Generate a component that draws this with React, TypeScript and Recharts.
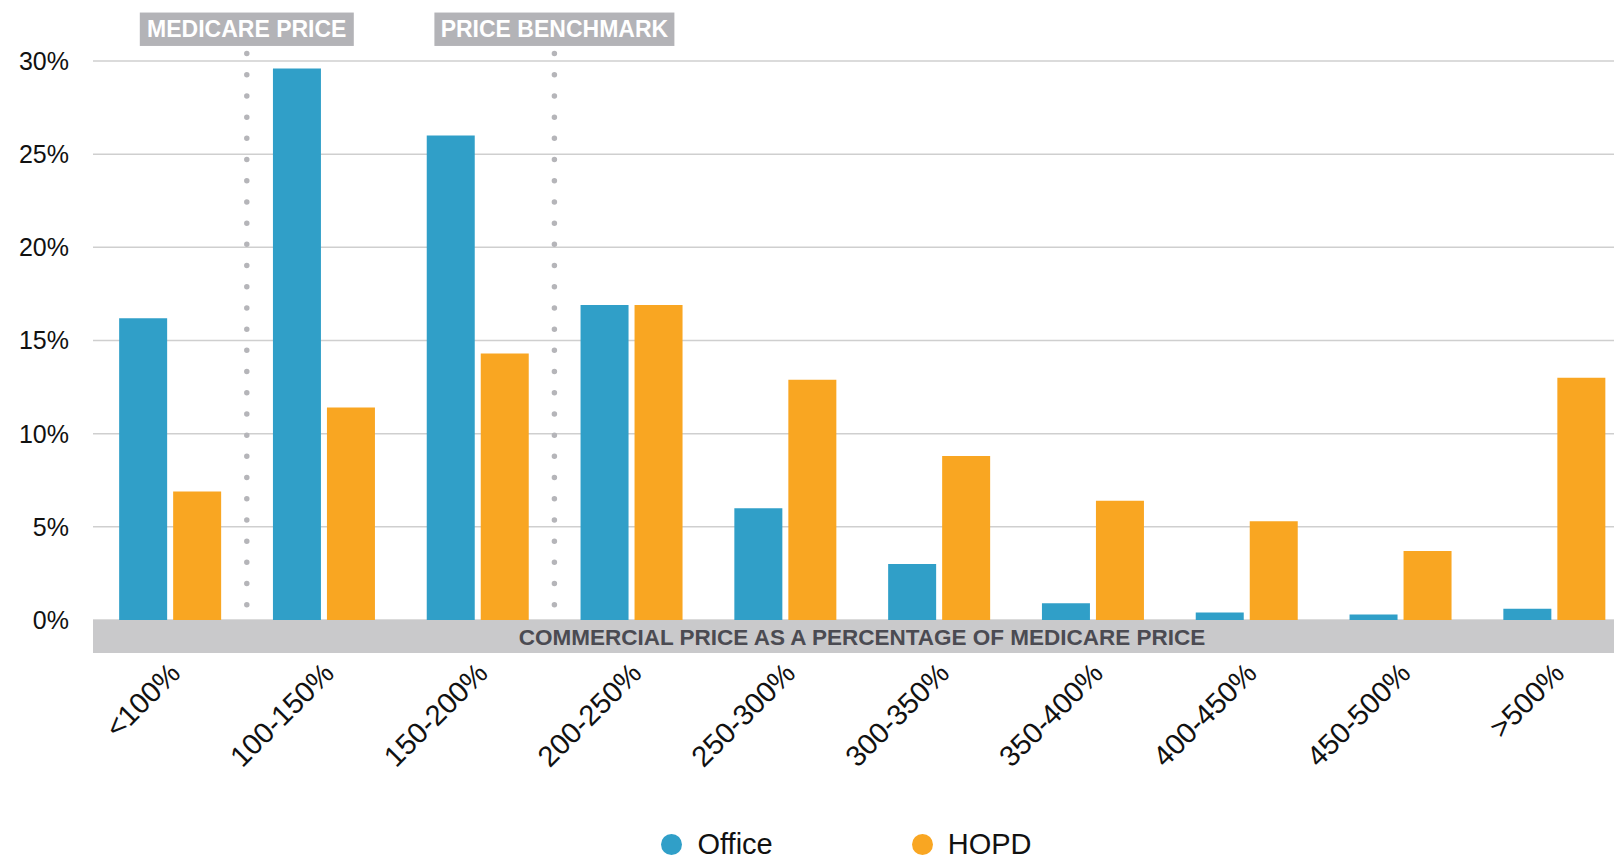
import React from 'react';
import { BarChart, Bar, XAxis, YAxis, CartesianGrid, ReferenceLine, Legend } from 'recharts';

const categories = ['<100%', '100-150%', '150-200%', '200-250%', '250-300%', '300-350%', '350-400%', '400-450%', '450-500%', '>500%'];
const officeValues = [16.2, 29.6, 26.0, 16.9, 6.0, 3.0, 0.9, 0.4, 0.3, 0.6];
const hopdValues = [6.9, 11.4, 14.3, 16.9, 12.9, 8.8, 6.4, 5.3, 3.7, 13.0];
const seriesNames = ['Office', 'HOPD'];
const yTicks = [0, 5, 10, 15, 20, 25, 30];
// dotted markers sit at the left edge of these categories
const markerCats = ['100-150%', '200-250%'];
const markerLabels = ['MEDICARE PRICE', 'PRICE BENCHMARK'];
const markerBoxWidths = [214, 240];
const axisTitle = 'COMMERCIAL PRICE AS A PERCENTAGE OF MEDICARE PRICE';

const data = categories.map((range, i) => ({ range, office: officeValues[i], hopd: hopdValues[i] }));

const FONT = '"Liberation Sans", Arial, sans-serif';
const OFFICE = '#309fc8';
const HOPD = '#f9a622';

const RotatedTick = ({ x, y, payload }: any) => (
  <g transform={`translate(${x + 12},${y + 55})`}>
    <text transform="rotate(-45)" textAnchor="end" fontSize={29} fontFamily={FONT} fill="#111">
      {payload.value}
    </text>
  </g>
);

const AxisBand = ({ viewBox }: any) => {
  const { x, y, width } = viewBox;
  return (
    <g>
      <rect x={x} y={y} width={width} height={33} fill="#c9c9cb" />
      <text x={x + width / 2} y={y + 25} textAnchor="middle" fontSize={22.5} fontWeight="bold" fontFamily={FONT} fill="#4b4b52">
        {axisTitle}
      </text>
    </g>
  );
};

const markerLabel = (i: number) => ({ viewBox }: any) => {
  const w = markerBoxWidths[i];
  return (
    <g>
      <rect x={viewBox.x - w / 2} y={viewBox.y - 41} width={w} height={33.4} fill="#b3b3b7" />
      <text x={viewBox.x} y={viewBox.y - 16.5} textAnchor="middle" fontSize={23} fontWeight="bold" fontFamily={FONT} fill="#fff">
        {markerLabels[i]}
      </text>
    </g>
  );
};

const LegendContent = ({ payload }: any) => {
  const items = [...(payload || [])].sort((a: any, b: any) => seriesNames.indexOf(a.value) - seriesNames.indexOf(b.value));
  return (
    <div style={{ display: 'flex', justifyContent: 'center', alignItems: 'center', height: 40, paddingLeft: 62, gap: 139, fontFamily: FONT, fontSize: 29, color: '#111' }}>
      {items.map((p: any) => (
        <div key={p.value} style={{ display: 'flex', alignItems: 'center', height: 24 }}>
          <span style={{ width: 21, height: 21, borderRadius: '50%', background: p.color, marginRight: 15, display: 'inline-block' }} />
          <span style={{ lineHeight: '24px' }}>{p.value}</span>
        </div>
      ))}
    </div>
  );
};

export default function App() {
  return (
    <div style={{ position: 'absolute', left: 0, top: 0, width: 1614, height: 860, overflow: 'hidden', background: '#fff' }}>
      <BarChart width={1631} height={864} data={data} margin={{ top: 61, right: 0, bottom: 0, left: 0 }} barCategoryGap="17%" barGap={6}>
        <CartesianGrid vertical={false} stroke="#cfcfcf" strokeWidth={1.5} />
        <YAxis
          domain={[0, 30]}
          ticks={yTicks}
          width={93}
          axisLine={false}
          tickLine={false}
          tickSize={0}
          tickMargin={24}
          tickFormatter={(v: number) => `${v}%`}
          tick={{ fontSize: 25, fontFamily: FONT, fill: '#111' }}
        />
        <XAxis
          dataKey="range"
          height={204}
          interval={0}
          axisLine={false}
          tickLine={false}
          tickSize={0}
          tickMargin={0}
          tick={<RotatedTick />}
          label={{ content: AxisBand }}
        />
        <Bar dataKey="office" name={seriesNames[0]} fill={OFFICE} isAnimationActive={false} />
        <Bar dataKey="hopd" name={seriesNames[1]} fill={HOPD} isAnimationActive={false} />
        {markerCats.map((cat, i) => (
          <ReferenceLine
            key={markerLabels[i]}
            segment={[{ x: cat, y: 30.4 }, { x: cat, y: 0.25 }]}
            position="start"
            ifOverflow="visible"
            stroke="#b5b5b9"
            strokeWidth={5.5}
            strokeDasharray="0 21.2"
            strokeLinecap="round"
            label={markerLabel(i)}
          />
        ))}
        <Legend verticalAlign="bottom" height={40} wrapperStyle={{ height: 40 }} content={<LegendContent />} />
      </BarChart>
    </div>
  );
}
